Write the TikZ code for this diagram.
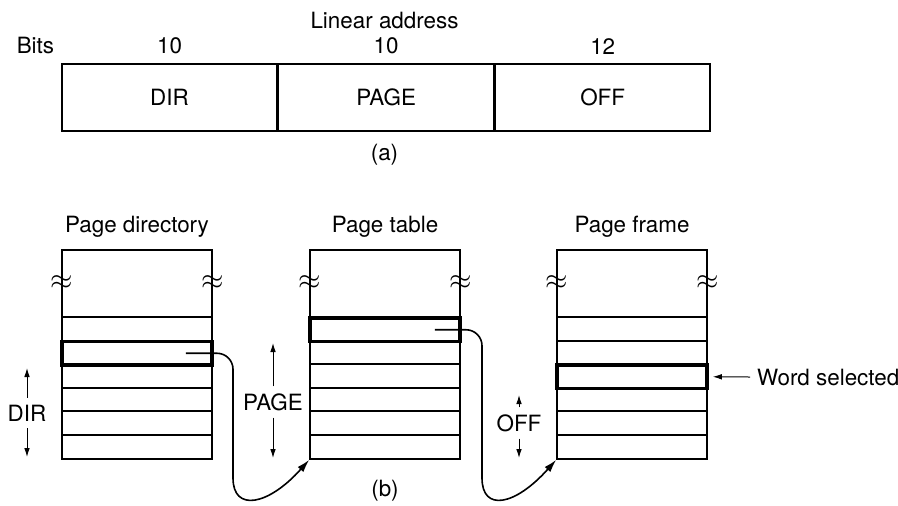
\documentclass[tikz,border=0pt]{standalone}
\usepackage{fontspec}
\setmainfont{TeX Gyre Heros}
\usetikzlibrary{arrows.meta,positioning}
\tikzset{
  field/.style={draw, line width=0.8pt, minimum width=107.5pt, minimum height=33.5pt, inner sep=0pt},
  tbl/.style={draw, line width=0.75pt, minimum width=75pt, minimum height=104.5pt, inner sep=0pt},
  sel/.style={draw, line width=1.8pt, minimum width=75pt, minimum height=11.75pt, inner sep=0pt},
  rowline/.style={line width=1pt},
  wave/.style={inner sep=0pt, font=\Large},
  ptr/.style={-{Latex[length=6.5pt,width=3.8pt]}, line width=0.8pt},
  tip/.style={-{Latex[length=4.5pt,width=2.8pt]}, line width=0.5pt}
}

\begin{document}
\begin{tikzpicture}[x=0.5pt,y=-0.5pt,font=\fontsize{11.2pt}{13pt}\selectfont]
  \useasboundingbox (0,0) rectangle (898,505);

  % (a) linear address
  \node[field] (dir) at (169.5,97.5) {DIR};
  \node[field, right=0pt of dir] (pg) {PAGE};
  \node[field, right=0pt of pg] (off) {OFF};
  \node[above=1pt of dir] (dirbits) {10};
  \node[above=1pt of pg] (pgbits) {10};
  \node[above=1pt of off] (offbits) {12};
  \node[anchor=base east] (bits) at (dir.west |- dirbits.base) {Bits};
  \node (linaddr) at (384.5,20) {Linear address};
  \node (capa) at (384.5,155) {(a)};

  % (b) tables
  \node[tbl] (dirtab) at (137,354.5) {};
  \node[tbl] (pgtab) at (385,354.5) {};
  \node[tbl] (frame) at (632,354.5) {};
  \node (dirttl) at (137,227) {Page directory};
  \node (pgttl) at (385,227) {Page table};
  \node (frttl) at (632,227) {Page frame};

  \foreach \t in {dirtab,pgtab,frame}{
    \foreach \k in {0,...,5}
      \draw[rowline] ([yshift={-34pt-\k*11.75pt}]\t.north west) -- ([yshift={-34pt-\k*11.75pt}]\t.north east);
    \node[wave] at ([yshift=-16.5pt]\t.north west) {$\approx$};
    \node[wave] at ([yshift=-16.5pt]\t.north east) {$\approx$};
  }

  \node[sel] (dirsel) at (137,353.25) {};
  \node[sel] (pgsel) at (385,329.75) {};
  \node[sel] (wordsel) at (632,376.75) {};

  % pointers
  \coordinate (d0) at ([xshift=-14pt]dirsel.east);
  \coordinate (p0) at ([xshift=-13.5pt]pgsel.east);
  \draw[ptr, rounded corners=8pt] (d0) -| (233,462) .. controls (233,512) and (268,506) .. (pgtab.south west);
  \draw[ptr, rounded corners=8pt] (p0) -| (482,462) .. controls (482,512) and (515,506) .. (frame.south west);

  % field widths
  \node (dirlbl) at (27,413) {DIR};
  \draw[tip] (dirlbl.north) -- (27,368);
  \draw[tip] (dirlbl.south) -- (27,457);
  \node (pglbl) at (273,402) {PAGE};
  \draw[tip] (pglbl.north) -- (273,343);
  \draw[tip] (pglbl.south) -- (273,458);
  \node (offlbl) at (519,423) {OFF};
  \draw[tip] (offlbl.north) -- (519,395);
  \draw[tip] (offlbl.south) -- (519,458);

  \node[anchor=west] (wslbl) at (750,377) {Word selected};
  \draw[tip] (wslbl.west) -- ([xshift=2pt]wordsel.east);

  \node (capb) at (385,491) {(b)};
\end{tikzpicture}
\end{document}
